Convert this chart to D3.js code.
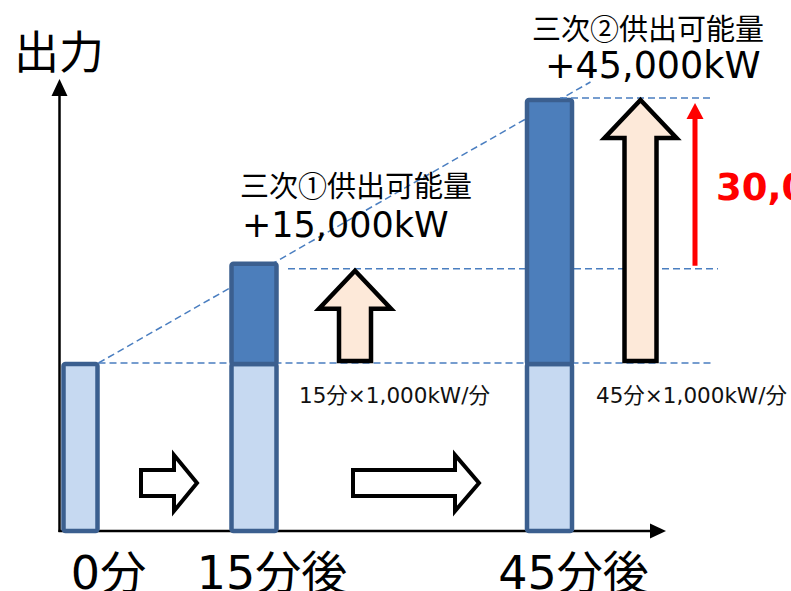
<!DOCTYPE html>
<html>
<head>
<meta charset="utf-8">
<script src="https://cdn.jsdelivr.net/npm/d3@7"></script>
<style>
  html, body { margin: 0; padding: 0; background: #fff; overflow: hidden; }
  svg { display: block; }
  text { font-family: "DejaVu Sans", "Noto Sans CJK JP", sans-serif; }
</style>
</head>
<body>
<svg id="chart" width="791" height="591"></svg>
<script>
// ---------- data ----------
const categories   = ["0分", "15分後", "45分後"];
const minutes      = [0, 15, 45];
const baseOutput   = [25000, 25000, 25000];   // kW (as drawn)
const addedOutput  = [0, 15000, 39500];       // kW (as drawn)
const yAxisTitle   = "出力";
const supplyNames  = ["三次①供出可能量", "三次②供出可能量"];
const supplyValues = ["+15,000kW", "+45,000kW"];
const rampLabels   = ["15分×1,000kW/分", "45分×1,000kW/分"];
const diffLabel    = "30,000kW";

// ---------- layout ----------
const W = 791, H = 591;
const svg = d3.select("#chart");
const x = d3.scaleLinear().domain(minutes).range([80.5, 254, 549.5]);
const y = d3.scaleLinear().domain([0, 67500]).range([531, 80]);

const lightFill = "#C6D9F1", darkFill = "#4C7EBB", barStroke = "#3B5F8F";
const dashColor = "#4A7EC0";
const totals = minutes.map((m, i) => baseOutput[i] + addedOutput[i]);
const baseY = y(baseOutput[0]);
const lvl15 = y(totals[1]) + 5;
const lvl45 = y(totals[2]) - 2;

const dash = (x1, y1, x2, y2) => svg.append("line")
  .attr("x1", x1).attr("y1", y1).attr("x2", x2).attr("y2", y2)
  .attr("stroke", dashColor).attr("stroke-width", 1.5)
  .attr("stroke-dasharray", "7,4");

// dashed guides behind bars
dash(x(0) + 18, baseY - 1, 712, baseY - 1);
dash(288, lvl15, 718, lvl15);
dash(x(0) + 18, baseY - 1, x(45) + 41, 82);

// axes
const axisG = svg.append("g");
axisG.append("line").attr("x1", 59.5).attr("y1", y(0) + 1).attr("x2", 59.5).attr("y2", 94)
  .attr("stroke", "#000").attr("stroke-width", 2.5);
axisG.append("path").attr("d", `M59.5,79 L67.5,96 L51.5,96 Z`).attr("fill", "#000");
axisG.append("line").attr("x1", 58.5).attr("y1", y(0)).attr("x2", 652).attr("y2", y(0))
  .attr("stroke", "#000").attr("stroke-width", 2.5);
axisG.append("path").attr("d", `M666,${y(0)} L650,${y(0) - 7.5} L650,${y(0) + 7.5} Z`).attr("fill", "#000");

// bars
const bw = i => (i === 0 ? 34 : 45);
const barG = svg.append("g");
barG.selectAll("rect.base").data(minutes).join("rect")
  .attr("class", "base")
  .attr("x", (m, i) => x(m) - bw(i) / 2)
  .attr("y", (m, i) => y(baseOutput[i]))
  .attr("width", (m, i) => bw(i))
  .attr("height", (m, i) => y(0) - y(baseOutput[i]))
  .attr("rx", 2)
  .attr("fill", lightFill).attr("stroke", barStroke).attr("stroke-width", 4.5);
barG.selectAll("rect.add").data(minutes.filter((m, i) => addedOutput[i] > 0)).join("rect")
  .attr("class", "add")
  .attr("x", m => x(m) - 22.5)
  .attr("y", m => y(totals[minutes.indexOf(m)]))
  .attr("width", 45)
  .attr("height", m => y(baseOutput[minutes.indexOf(m)]) - y(totals[minutes.indexOf(m)]))
  .attr("rx", 2)
  .attr("fill", darkFill).attr("stroke", barStroke).attr("stroke-width", 4.5);

// dashed line at 45-min level (on top)
dash(560, lvl45, 712, lvl45);

// peach block arrows
const upArrow = (cx, tip, bottom) => svg.append("path")
  .attr("d", `M${cx},${tip} L${cx + 36},${tip + 38} L${cx + 16},${tip + 38} L${cx + 16},${bottom}
              L${cx - 16},${bottom} L${cx - 16},${tip + 38} L${cx - 36},${tip + 38} Z`)
  .attr("fill", "#FDE9D9").attr("stroke", "#000").attr("stroke-width", 4.5)
  .attr("stroke-linejoin", "miter");
upArrow(x(15) + 101, lvl15 + 2, baseY - 3);
upArrow(x(45) + 91, lvl45 + 2, baseY - 3);

// outline right arrows between bars
const rightArrow = (L, Hx, T, cy) => svg.append("path")
  .attr("d", `M${L},${cy - 13} L${Hx},${cy - 13} L${Hx},${cy - 28} L${T},${cy} L${Hx},${cy + 28}
              L${Hx},${cy + 13} L${L},${cy + 13} Z`)
  .attr("fill", "#fff").attr("stroke", "#000").attr("stroke-width", 4)
  .attr("stroke-linejoin", "miter");
rightArrow(141, 174, 197, 483);
rightArrow(353, 455, 479, 483);

// red difference arrow
svg.append("line").attr("x1", 695).attr("y1", lvl15 - 3).attr("x2", 695).attr("y2", lvl45 + 18)
  .attr("stroke", "#FF0000").attr("stroke-width", 5);
svg.append("path").attr("d", `M695,${lvl45 + 5} L703.5,${lvl45 + 21} L686.5,${lvl45 + 21} Z`)
  .attr("fill", "#FF0000");
svg.append("text").attr("x", 716).attr("y", 200)
  .attr("font-size", 37).attr("font-weight", "bold").attr("fill", "#FF0000")
  .text(diffLabel);

// texts
svg.append("text").attr("x", 14).attr("y", 69).attr("font-size", 45)
  .style("font-family", "'Noto Sans CJK JP', sans-serif").text(yAxisTitle);

const labelDx = [28, 18, 24];
svg.selectAll("text.cat").data(categories).join("text")
  .attr("class", "cat")
  .attr("x", (d, i) => x(minutes[i]) + labelDx[i])
  .attr("y", 589)
  .attr("text-anchor", "middle")
  .attr("font-size", 46)
  .text(d => d);

const nameFont = "'Noto Sans CJK JP', sans-serif";
svg.append("text").attr("x", 240).attr("y", 197).attr("font-size", 29)
  .style("font-family", nameFont).text(supplyNames[0]);
svg.append("text").attr("x", 532).attr("y", 40).attr("font-size", 29)
  .style("font-family", nameFont).text(supplyNames[1]);
svg.append("text").attr("x", 242).attr("y", 237).attr("font-size", 35).text(supplyValues[0]);
svg.append("text").attr("x", 545).attr("y", 78).attr("font-size", 36.5).text(supplyValues[1]);

svg.append("text").attr("x", 299).attr("y", 403).attr("font-size", 21.5).attr("fill", "#111").text(rampLabels[0]);
svg.append("text").attr("x", 596).attr("y", 403).attr("font-size", 21.5).attr("fill", "#111").text(rampLabels[1]);
</script>
</body>
</html>
